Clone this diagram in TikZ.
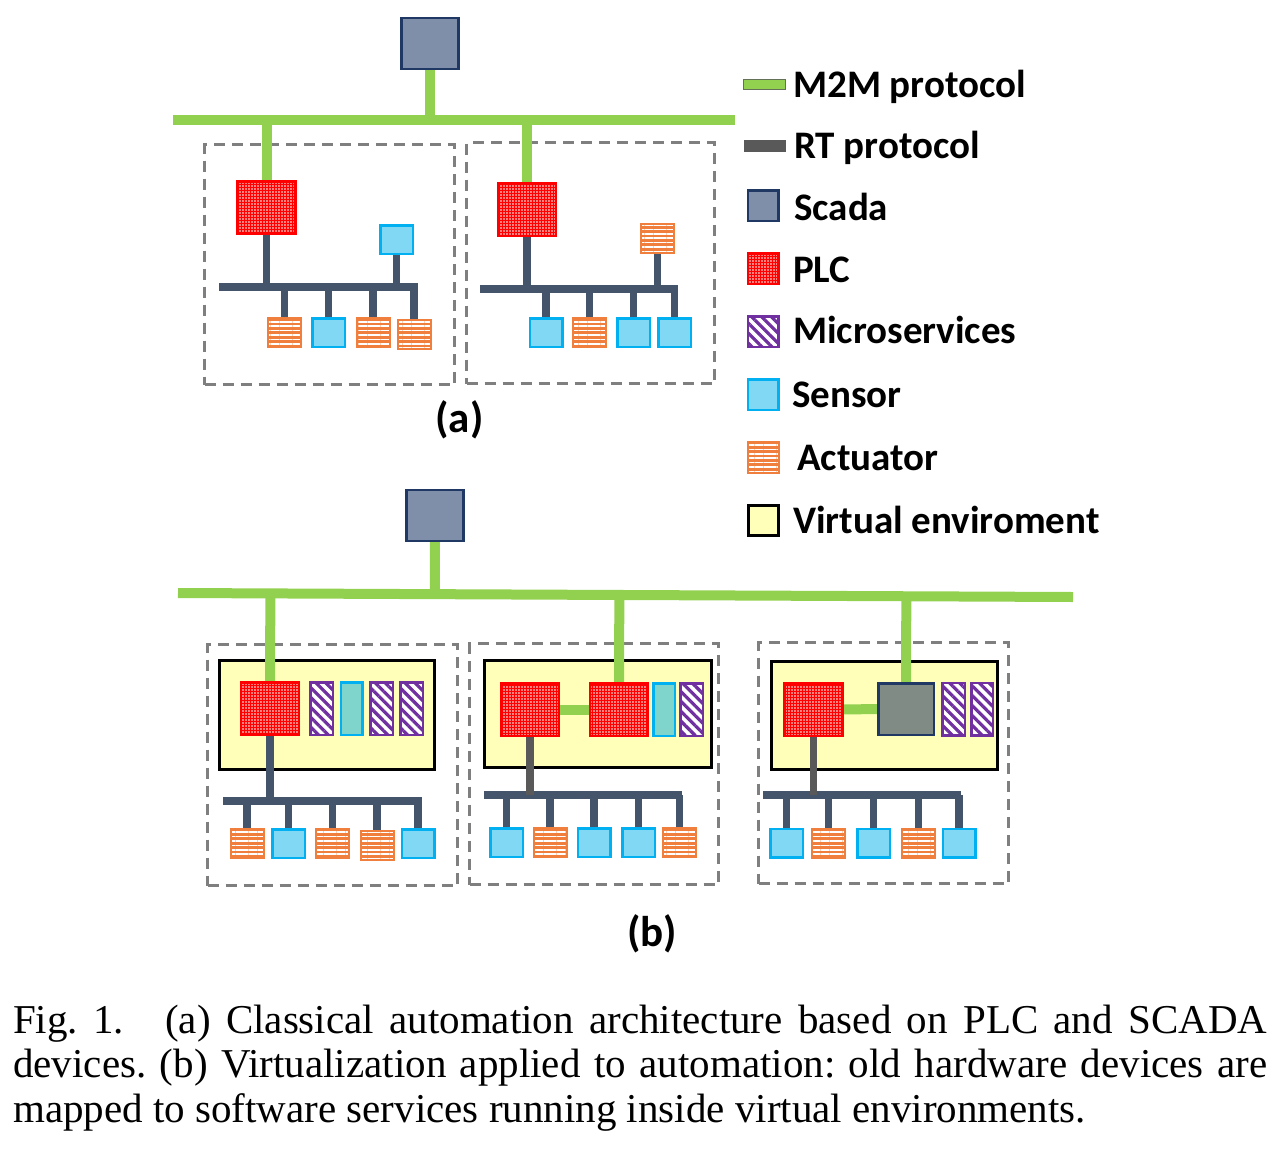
\documentclass[tikz,border=0pt]{standalone}
\usepackage{fontspec}
\setmainfont{Liberation Serif}
\newfontfamily\cali{Carlito}
\usetikzlibrary{patterns.meta,calc}
\definecolor{mgreen}{HTML}{92D050}
\definecolor{rtblue}{HTML}{44546A}
\definecolor{rtgray}{HTML}{595959}
\definecolor{scfill}{HTML}{7F8FAA}
\definecolor{navy}{HTML}{1F3864}
\definecolor{plcred}{HTML}{FF0000}
\definecolor{mpurple}{HTML}{7030A0}
\definecolor{sfill}{HTML}{80D8F5}
\definecolor{sborder}{HTML}{00B0F0}
\definecolor{tfill}{HTML}{7FD5CC}
\definecolor{acto}{HTML}{F07E3C}
\definecolor{vefill}{HTML}{FFFFB9}
\definecolor{vsfill}{HTML}{7F8B84}
\definecolor{dgray}{HTML}{7F7F7F}
\pgfdeclarelayer{back}
\pgfdeclarelayer{mid}
\pgfsetlayers{back,mid,main}
\begin{document}
\begin{tikzpicture}[x=1pt,y=-1pt,
  box/.style={rectangle,inner sep=0pt,outer sep=0pt},
  scada/.style={box,draw=navy,fill=scfill,line width=2.5pt,minimum width=57pt,minimum height=51pt},
  plc/.style={box,draw=plcred,line width=2.5pt,preaction={fill=plcred},pattern={Dots[distance=3pt,radius=0.85pt]},pattern color=white,minimum width=58pt,minimum height=52.5pt},
  micro/.style={box,draw=mpurple,line width=2.5pt,preaction={fill=white},pattern={Lines[angle=-45,distance=7pt,line width=3.2pt]},pattern color=mpurple,minimum width=22.5pt,minimum height=52.5pt},
  tealb/.style={box,draw=sborder,fill=tfill,line width=2.5pt,minimum width=21.5pt,minimum height=52.5pt},
  sens/.style={box,draw=sborder,fill=sfill,line width=2.5pt,minimum width=32.5pt,minimum height=28.5pt},
  act/.style={box,draw=acto,line width=2pt,preaction={fill=acto},pattern={Lines[distance=4.4pt,line width=1.6pt]},pattern color=white,minimum width=33pt,minimum height=29pt},
  vsc/.style={box,draw=navy,fill=vsfill,line width=2.5pt,minimum width=55.5pt,minimum height=51.5pt},
  vebox/.style={box,draw=black,fill=vefill,line width=3pt},
  zone/.style={box,draw=dgray,line width=3.5pt,dash pattern=on 11pt off 7pt},
  m2m/.style={draw=mgreen,line width=10pt},
  rt/.style={draw=rtblue,line width=7.5pt},
  rtg/.style={draw=rtgray,line width=7.5pt},
  legtxt/.style={anchor=base west,inner sep=0pt,font=\cali\bfseries\fontsize{39}{44}\selectfont},
  lab/.style={anchor=base,inner sep=0pt,font=\cali\bfseries\fontsize{43}{48}\selectfont}]
\useasboundingbox (0,0) rectangle (1280,1149);

% ================= (a) =================
\node[scada] (scA) at (430,43.5) {};
\coordinate (busAL) at (173,119.5);
\coordinate (busAR) at (735,119.5);
\begin{pgfonlayer}{back}
\node[zone,minimum width=250pt,minimum height=240pt] (zA1) at (329.5,264.5) {};
\node[zone,minimum width=248pt,minimum height=241pt] (zA2) at (590.5,263) {};
\end{pgfonlayer}
\node[plc] (pA1) at (266.5,207.5) {};
\node[plc] (pA2) at (527,209.5) {};
% zone a1 devices
\node[sens] (sAT) at (396.5,239.5) {};
\node[act] (aA1) at (284.5,332.5) {};
\node[sens] (sA2) at (328.5,332.5) {};
\node[act] (aA3) at (373,332.5) {};
\node[act] (aA4) at (414,334.5) {};
\coordinate (rtA1L) at (219,287);
\coordinate (rtA1R) at (417.5,287);
% zone a2 devices
\node[act] (aBT) at (657.5,238.5) {};
\node[sens] (sB1) at (546,332.5) {};
\node[act] (aB2) at (589.5,332.5) {};
\node[sens] (sB3) at (633.5,332.5) {};
\node[sens] (sB4) at (674.5,332.5) {};
\coordinate (rtA2L) at (480,289);
\coordinate (rtA2R) at (678,289);
\node[lab] (labA) at (459.5,432) {(a)};

\begin{pgfonlayer}{mid}
\draw[m2m] (busAL) -- (busAR);
\draw[m2m] (scA.south) -- (scA.south |- busAL);
\draw[m2m] (pA1.north) -- (pA1.north |- busAL);
\draw[m2m] (pA2.north) -- (pA2.north |- busAL);
\draw[rt] (rtA1L) -- (rtA1R);
\draw[rt] (pA1.south) -- (pA1.south |- rtA1L);
\draw[rt] (sAT.south) -- (sAT.south |- rtA1L);
\foreach \d in {aA1,sA2,aA3,aA4} \draw[rt] (\d.north) -- (\d.north |- rtA1L);
\draw[rt] (rtA2L) -- (rtA2R);
\draw[rt] (pA2.south) -- (pA2.south |- rtA2L);
\draw[rt] (aBT.south) -- (aBT.south |- rtA2L);
\foreach \d in {sB1,aB2,sB3,sB4} \draw[rt] (\d.north) -- (\d.north |- rtA2L);
\end{pgfonlayer}

% ================= legend =================
\node[box,draw=rtgray!80!mgreen,line width=0.8pt,fill=mgreen,minimum width=42pt,minimum height=10pt] (lgM) at (764.5,84) {};
\node[box,fill=rtgray,minimum width=42pt,minimum height=12pt] (lgR) at (765,146) {};
\node[scada,minimum width=30.5pt,minimum height=30.5pt] (lgS) at (763,205.5) {};
\node[plc,minimum width=30.5pt,minimum height=30.5pt] (lgP) at (763,268.5) {};
\node[micro,minimum width=30.5pt,minimum height=30.5pt] (lgMi) at (763,331.5) {};
\node[sens,minimum width=30.5pt,minimum height=30.5pt] (lgSe) at (763,394.5) {};
\node[act,minimum width=31pt,minimum height=31pt] (lgA) at (763,457.5) {};
\node[vebox,minimum width=30pt,minimum height=30pt] (lgV) at (763,520.5) {};
\node[legtxt] (tM) at (793,97.5) {M2M protocol};
\node[legtxt] (tR) at (794,158) {RT protocol};
\node[legtxt] (tS) at (794,220) {Scada};
\node[legtxt] (tP) at (793,282) {PLC};
\node[legtxt] (tMi) at (793,343) {Microservices};
\node[legtxt] (tSe) at (792,407) {Sensor};
\node[legtxt] (tA) at (797,470) {Actuator};
\node[legtxt] (tV) at (793,533) {Virtual enviroment};

% ================= (b) =================
\node[scada] (scB) at (435,515.5) {};
\coordinate (busBL) at (178,593);
\coordinate (busBR) at (1073,597);
\begin{pgfonlayer}{back}
\node[zone,minimum width=250pt,minimum height=241pt] (zB1) at (332.5,765) {};
\node[zone,minimum width=249pt,minimum height=241pt] (zB2) at (594,764) {};
\node[zone,minimum width=250pt,minimum height=241pt] (zB3) at (883.5,763) {};
\node[vebox,minimum width=215pt,minimum height=109pt] (veB1) at (327,715) {};
\node[vebox,minimum width=227pt,minimum height=107pt] (veB2) at (598,714) {};
\node[vebox,minimum width=226pt,minimum height=108pt] (veB3) at (884.5,715.5) {};
\end{pgfonlayer}
% VE 1
\node[plc] (pB1) at (270,708.5) {};
\node[micro] (mB1a) at (321.5,708.5) {};
\node[tealb] (tB1) at (351.5,708.5) {};
\node[micro] (mB1b) at (381.5,708.5) {};
\node[micro] (mB1c) at (411.5,708.5) {};
% VE 2
\node[plc] (pB2a) at (530,709.5) {};
\node[plc] (pB2b) at (619,709.5) {};
\node[tealb] (tB2) at (664,709.5) {};
\node[micro] (mB2) at (691.5,709.5) {};
% VE 3
\node[plc] (pB3) at (813.5,709.5) {};
\node[vsc] (vsB3) at (906,709) {};
\node[micro] (mB3a) at (953.5,709) {};
\node[micro,minimum width=21.5pt] (mB3b) at (982,709) {};
% field devices
\node[act] (aC1) at (247,843.5) {};
\node[sens] (sC2) at (288.5,843.5) {};
\node[act] (aC3) at (332.5,843.5) {};
\node[act] (aC4) at (377,845.5) {};
\node[sens] (sC5) at (418,843.5) {};
\coordinate (rtB1L) at (223,801);
\coordinate (rtB1R) at (421.5,801);
\node[sens] (sD1) at (506.5,842.5) {};
\node[act] (aD2) at (550,842.5) {};
\node[sens] (sD3) at (594,842.5) {};
\node[sens] (sD4) at (638.5,842.5) {};
\node[act] (aD5) at (679.5,842.5) {};
\coordinate (rtB2L) at (484,795);
\coordinate (rtB2R) at (682,795);
\node[sens] (sE1) at (786.5,843) {};
\node[act] (aE2) at (828.5,843) {};
\node[sens] (sE3) at (873.5,843) {};
\node[act] (aE4) at (918.5,843) {};
\node[sens] (sE5) at (959,843) {};
\coordinate (rtB3L) at (763,795);
\coordinate (rtB3R) at (961,795);
\node[lab] (labB) at (652,946) {(b)};

\begin{pgfonlayer}{mid}
\draw[m2m] (busBL) -- (busBR);
\draw[m2m] (scB.south) -- ($(busBL)!(scB.south)!(busBR)$);
\draw[m2m] (pB1.north) -- ($(busBL)!(pB1.north)!(busBR)$);
\draw[m2m] (pB2b.north) -- ($(busBL)!(pB2b.north)!(busBR)$);
\draw[m2m] (vsB3.north) -- ($(busBL)!(vsB3.north)!(busBR)$);
\draw[m2m] (pB2a.east) -- (pB2b.west);
\draw[m2m] (pB3.east) -- (vsB3.west);
\draw[rt] (rtB1L) -- (rtB1R);
\draw[rt] (pB1.south) -- (pB1.south |- rtB1L);
\foreach \d in {aC1,sC2,aC3,aC4,sC5} \draw[rt] (\d.north) -- (\d.north |- rtB1L);
\draw[rt] (rtB2L) -- (rtB2R);
\draw[rtg] (pB2a.south) -- (pB2a.south |- rtB2L);
\foreach \d in {sD1,aD2,sD3,sD4,aD5} \draw[rt] (\d.north) -- (\d.north |- rtB2L);
\draw[rt] (rtB3L) -- (rtB3R);
\draw[rtg] (pB3.south) -- (pB3.south |- rtB3L);
\foreach \d in {sE1,aE2,sE3,aE4,sE5} \draw[rt] (\d.north) -- (\d.north |- rtB3L);
\end{pgfonlayer}

% ================= caption =================
\node[anchor=base west,inner sep=0pt,text width=1254pt,align=justify,font=\frenchspacing\fontsize{41}{44.5}\selectfont] (cap) at (13,1033)
{Fig. 1.\hspace{1em}(a) Classical automation architecture based on PLC and SCADA\linebreak
devices. (b) Virtualization applied to automation: old hardware devices are\linebreak
mapped to software services running inside virtual environments.};
\end{tikzpicture}
\end{document}
